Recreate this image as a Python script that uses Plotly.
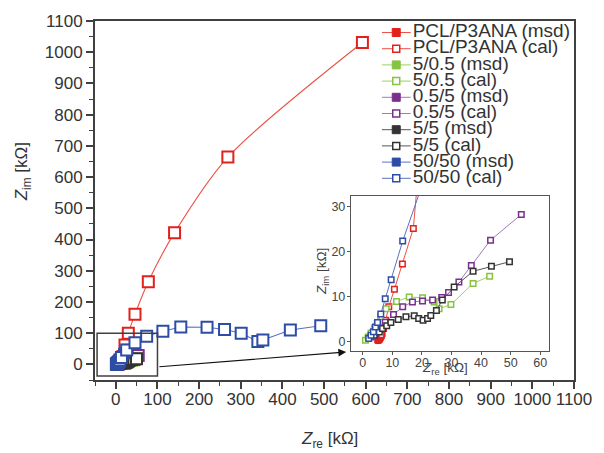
import plotly.graph_objects as go

# ---------------- data ----------------
names = ["PCL/P3ANA", "5/0.5", "0.5/5", "5/5", "50/50"]
marker_colors = ["#e2211c", "#85c441", "#7a2f8f", "#333333", "#2d4ca5"]
line_colors = ["#ea5247", "#9bd162", "#a27ab8", "#555555", "#5a72c0"]
line_shapes = ["spline", "linear", "linear", "linear", "linear"]

pcl_msd_x = [4.9, 5.2, 5.5, 5.8, 6.1, 6.4, 6.7]
pcl_msd_y = [0.3, 0.2, 0.3, 0.5, 0.8, 1.2, 1.7]
pcl_cal_x = [6.2, 7.0, 7.7, 8.8, 10.7, 13.4, 17.1, 22, 30, 46, 78, 141, 269, 592]
pcl_cal_y = [1.6, 3.0, 4.8, 7.8, 11.7, 17.3, 25.2, 62, 100, 161, 265, 422, 664, 1031]

g_msd_x = [1.0, 1.9, 2.9, 4.0, 5.0, 6.2, 8.1, 11.6, 15.9, 20.4, 24.3, 26.0, 30.0, 37.5, 43.1]
g_msd_y = [0.5, 1.2, 2.1, 3.2, 4.2, 5.8, 7.6, 9.1, 10.1, 9.9, 9.0, 7.6, 8.4, 13.1, 14.7]
g_cal_x = [0.9, 1.8, 2.8, 3.9, 4.9, 6.0, 7.9, 11.4, 15.7, 20.2, 24.1, 25.8, 29.8, 37.3, 42.9]
g_cal_y = [0.4, 1.1, 2.0, 3.1, 4.1, 5.6, 7.4, 9.0, 10.0, 9.8, 8.9, 7.4, 8.3, 13.0, 14.6]

p_msd_x = [3.0, 4.7, 6.4, 7.8, 10.6, 13.7, 17.0, 20.4, 23.8, 26.9, 29.2, 32.7, 36.9, 43.4, 53.8]
p_msd_y = [1.2, 2.0, 3.2, 4.5, 6.2, 7.9, 9.0, 9.2, 9.4, 10.0, 11.1, 13.4, 17.1, 22.7, 28.4]
p_cal_x = [2.8, 4.5, 6.2, 7.6, 10.4, 13.5, 16.8, 20.2, 23.6, 26.7, 29.0, 32.5, 36.7, 43.2, 53.6]
p_cal_y = [1.1, 1.9, 3.1, 4.4, 6.1, 7.8, 8.9, 9.1, 9.3, 9.9, 11.0, 13.3, 17.0, 22.6, 28.3]

k_msd_x = [4.1, 5.8, 6.9, 8.3, 9.7, 12.2, 14.8, 17.6, 19.1, 20.6, 22.1, 23.2, 25.1, 27.1, 31.1, 37.5, 43.7, 49.8]
k_msd_y = [1.6, 2.3, 3.1, 3.7, 4.4, 5.1, 5.7, 5.9, 5.3, 4.9, 5.3, 6.0, 7.1, 9.4, 12.3, 15.8, 16.9, 17.9]
k_cal_x = [3.9, 5.6, 6.7, 8.1, 9.5, 12.0, 14.6, 17.4, 18.9, 20.4, 21.9, 23.0, 24.9, 26.9, 30.9, 37.3, 43.5, 49.6]
k_cal_y = [1.5, 2.2, 3.0, 3.6, 4.3, 5.0, 5.6, 5.8, 5.2, 4.8, 5.2, 5.9, 7.0, 9.3, 12.2, 15.7, 16.8, 17.8]

b_msd_x = [2.2, 3.0, 3.8, 4.5, 5.3, 6.4, 8.0, 10.1, 14.0, 20.0, 27.0]
b_msd_y = [0.9, 1.6, 2.4, 3.4, 4.5, 6.5, 10.0, 14.6, 23.2, 35.0, 47.0]
b_cal_x = [2.0, 2.8, 3.6, 4.3, 5.0, 6.1, 7.6, 9.6, 13.5, 26, 46, 74, 113, 156, 219, 261, 301, 341, 353, 419, 492]
b_cal_y = [0.8, 1.5, 2.3, 3.3, 4.3, 6.2, 9.6, 13.8, 22.4, 46, 69, 90, 106, 120, 119, 112, 100, 73, 78, 110, 124]

msd_x = [pcl_msd_x, g_msd_x, p_msd_x, k_msd_x, b_msd_x]
msd_y = [pcl_msd_y, g_msd_y, p_msd_y, k_msd_y, b_msd_y]
cal_x = [pcl_cal_x, g_cal_x, p_cal_x, k_cal_x, b_cal_x]
cal_y = [pcl_cal_y, g_cal_y, p_cal_y, k_cal_y, b_cal_y]

main_ticks = list(range(0, 1101, 100))
inset_xticks = [0, 10, 20, 30, 40, 50, 60]
inset_yticks = [0, 10, 20, 30]

FONT = "Liberation Sans, Arial, sans-serif"
TXT = "#333333"

fig = go.Figure()

# ---------------- main plot ----------------
for i in range(len(names)):
    fig.add_trace(go.Scatter(
        x=msd_x[i], y=msd_y[i], mode="lines+markers", xaxis="x", yaxis="y",
        line=dict(color=line_colors[i], width=1),
        marker=dict(symbol="square", size=11, color=marker_colors[i],
                    line=dict(color=marker_colors[i], width=1)),
        showlegend=False, cliponaxis=False))
    fig.add_trace(go.Scatter(
        x=cal_x[i], y=cal_y[i], mode="lines+markers", xaxis="x", yaxis="y",
        line=dict(color=line_colors[i], width=1.1, shape=line_shapes[i], smoothing=0.8),
        marker=dict(symbol="square", size=11, color="white",
                    line=dict(color=marker_colors[i], width=2)),
        showlegend=False, cliponaxis=False))

# ---------------- inset ----------------
fig.add_trace(go.Scatter(
    x=pcl_msd_x, y=pcl_msd_y, mode="markers", xaxis="x2", yaxis="y2",
    marker=dict(symbol="square", size=5, color=marker_colors[0],
                line=dict(color=marker_colors[0], width=1)),
    showlegend=False))
for i in range(len(names)):
    fig.add_trace(go.Scatter(
        x=cal_x[i], y=cal_y[i], mode="lines+markers", xaxis="x2", yaxis="y2",
        line=dict(color=line_colors[i], width=1),
        marker=dict(symbol="square", size=5.5, color="white",
                    line=dict(color=marker_colors[i], width=1.5)),
        showlegend=False))

# ---------------- custom legend (own axis, px-like units) ----------------
rows = []
for i in range(len(names)):
    rows.append((names[i] + " (msd)", i, True))
    rows.append((names[i] + " (cal)", i, False))
for r, (label, ci, filled) in enumerate(rows):
    fig.add_trace(go.Scatter(
        x=[0, 29], y=[r, r], mode="lines", xaxis="x3", yaxis="y3",
        line=dict(color=line_colors[ci], width=1), showlegend=False,
        hoverinfo="skip"))
    fig.add_trace(go.Scatter(
        x=[14.5], y=[r], mode="markers", xaxis="x3", yaxis="y3",
        marker=dict(symbol="square", size=8 if filled else 7,
                    color=marker_colors[ci] if filled else "white",
                    line=dict(color=marker_colors[ci], width=1 if filled else 1.5)),
        showlegend=False, hoverinfo="skip"))
    fig.add_trace(go.Scatter(
        x=[31], y=[r], mode="text", text=[label], textposition="middle right",
        xaxis="x3", yaxis="y3", cliponaxis=False,
        textfont=dict(family=FONT, size=19, color=TXT),
        showlegend=False, hoverinfo="skip"))

# ---------------- layout ----------------
W, H = 604, 453
L, R, T, B = 95, 28, 21, 73
pw, ph = W - L - R, H - T - B


def px_x(p):
    return (p - L) / pw


def px_y(p):
    return (H - B - p) / ph


# legend rows: first row centre at 32 px, spacing 16.2 px
leg_top, leg_bot = 21, 194
row0, row_step = 32.5, 16.2
leg_range = [(leg_bot - row0) / row_step, (leg_top - row0) / row_step]

axis_common = dict(showgrid=False, zeroline=False, showline=True, mirror=True,
                   linecolor="#404040", ticks="outside", tickcolor="#404040",
                   tickfont=dict(family=FONT, size=17, color=TXT))

fig.update_layout(
    width=W, height=H, margin=dict(l=L, r=R, t=T, b=B),
    paper_bgcolor="white", plot_bgcolor="white", showlegend=False,
    xaxis=dict(**axis_common, range=[-50, 1100], tickvals=main_ticks,
               linewidth=2, ticklen=7, tickwidth=1.5, ticklabelstandoff=-4,
               minor=dict(ticks="outside", dtick=50, tick0=0, ticklen=4,
                          tickcolor="#404040", tickwidth=1.2),
               domain=[0, 1]),
    yaxis=dict(**axis_common, range=[-50, 1100], tickvals=main_ticks,
               linewidth=2, ticklen=7, tickwidth=1.5,
               minor=dict(ticks="outside", dtick=50, tick0=0, ticklen=4,
                          tickcolor="#404040", tickwidth=1.2),
               domain=[0, 1]),
    xaxis2=dict(showgrid=False, zeroline=False, showline=True, mirror=True,
                linecolor="#555555", linewidth=1.2, ticks="outside", ticklen=3,
                tickcolor="#555555", tickvals=inset_xticks, range=[-4, 63],
                ticklabelstandoff=-3,
                tickfont=dict(family=FONT, size=12.5, color="#444444"),
                domain=[px_x(352), px_x(551)], anchor="y2"),
    yaxis2=dict(showgrid=False, zeroline=False, showline=True, mirror=True,
                linecolor="#555555", linewidth=1.2, ticks="outside", ticklen=3,
                tickcolor="#555555", tickvals=inset_yticks, range=[-2, 32.4],
                ticklabelstandoff=-1,
                tickfont=dict(family=FONT, size=12.5, color="#444444"),
                domain=[px_y(351), px_y(196)], anchor="x2"),
    xaxis3=dict(visible=False, range=[0, 187], domain=[px_x(383), px_x(570)],
                anchor="y3", fixedrange=True),
    yaxis3=dict(visible=False, range=leg_range,
                domain=[px_y(leg_bot), px_y(leg_top)], anchor="x3", fixedrange=True),
)

# zoom box and arrow
fig.add_shape(type="rect", xref="x", yref="y", x0=-45, x1=100, y0=-37, y1=100,
              line=dict(color="#404040", width=1.5), fillcolor="rgba(0,0,0,0)")
fig.add_annotation(xref="x", yref="y", axref="x", ayref="y",
                   x=553, y=40, ax=101, ay=-8, text="", showarrow=True,
                   arrowhead=2, arrowsize=1.3, arrowwidth=1.2, arrowcolor="#111111",
                   standoff=0, startstandoff=0)

# axis titles
title_common = dict(xref="paper", yref="paper", showarrow=False,
                    xanchor="center", yanchor="middle")
fig.add_annotation(**title_common, x=px_x(330), y=px_y(440),
                   text="<i>Z</i><sub>re</sub> [kΩ]",
                   font=dict(family=FONT, size=17, color=TXT))
fig.add_annotation(**title_common, x=px_x(23), y=px_y(172),
                   text="<i>Z</i><sub>im</sub> [kΩ]", textangle=-90,
                   font=dict(family=FONT, size=17, color=TXT))
fig.add_annotation(**title_common, x=px_x(446), y=px_y(368),
                   text="<i>Z</i><sub>re</sub> [kΩ]",
                   font=dict(family=FONT, size=13.5, color="#444444"))
fig.add_annotation(**title_common, x=px_x(323), y=px_y(272),
                   text="<i>Z</i><sub>im</sub> [kΩ]", textangle=-90,
                   font=dict(family=FONT, size=13.5, color="#444444"))

fig.write_html("out.html")
